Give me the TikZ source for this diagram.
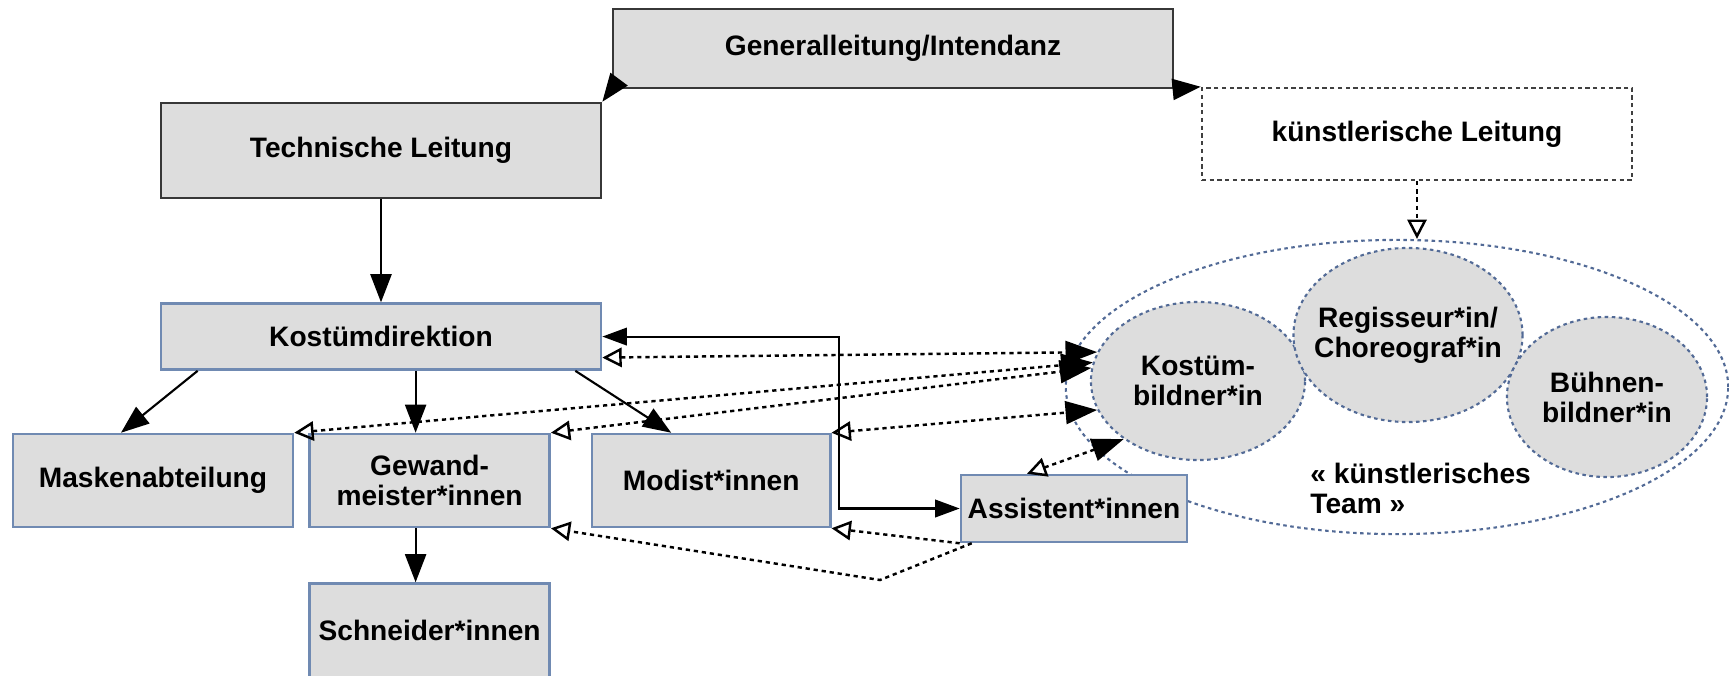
\documentclass[tikz,border=0pt]{standalone}
\usepackage{fontspec}
\setmainfont{Liberation Sans}
\usetikzlibrary{arrows.meta, positioning, shapes.geometric}

\definecolor{kastengrau}{RGB}{221,221,221}
\definecolor{randgrau}{RGB}{55,55,55}
\definecolor{randblau}{RGB}{112,138,178}
\definecolor{punktblau}{RGB}{82,106,150}

\tikzset{
  leitung/.style={draw=randgrau, fill=kastengrau, line width=0.7pt, inner sep=0pt,
                  font=\fontsize{8}{8.5}\selectfont\bfseries, align=center},
  abteilung/.style={leitung, draw=randblau},
  rolle/.style={ellipse, draw=punktblau, fill=kastengrau, dash pattern=on 1pt off 1pt,
                line width=0.6pt, inner sep=0pt},
  rollentext/.style={font=\fontsize{8}{8.5}\selectfont\bfseries, align=center},
  weisung/.style={-{Triangle[length=8pt,width=6pt]}, line width=0.6pt, draw=black},
  absprache/.style={{Triangle[open,length=5.5pt,width=5.5pt]}-{Triangle[length=9pt,width=6.5pt]},
                    dash pattern=on 1.2pt off 1.1pt, line width=0.7pt, draw=black},
  rueckweg/.style={-{Triangle[open,length=5.5pt,width=5.5pt]},
                   dash pattern=on 1.2pt off 1.1pt, line width=0.7pt, draw=black}
}

\begin{document}
\begin{tikzpicture}[x=0.01cm, y=-0.01cm]
    \useasboundingbox (0,0) rectangle (1729,675);

    % kuenstlerisches Team
    \node[ellipse, draw=punktblau, dash pattern=on 1pt off 1pt, line width=0.6pt,
          minimum width=6.62cm, minimum height=2.94cm, inner sep=0pt] (team) at (1397,387) {};
    \node[rolle, minimum width=2.14cm, minimum height=1.58cm,
          label={[rollentext]center:Kostüm-\\bildner*in}] (kb) at (1198,381) {};
    \node[rolle, minimum width=2.29cm, minimum height=1.74cm,
          label={[rollentext]center:Regisseur*in/\\Choreograf*in}] (rg) at (1408,335) {};
    \node[rolle, minimum width=2.0cm, minimum height=1.6cm,
          label={[rollentext]center:Bühnen-\\bildner*in}] (bb) at (1607,397) {};
    \node[rollentext, anchor=west, align=left] (teamtext) at (1298,488) {« künstlerisches\\Team »};

    \node[leitung, minimum width=5.6cm, minimum height=0.79cm] (gl) at (893,48.5) {Generalleitung/Intendanz};
    \node[leitung, minimum width=4.4cm, minimum height=0.95cm] (tl) at (381,150.5) {Technische Leitung};
    \node[leitung, fill=white, draw=black!75, dash pattern=on 1.2pt off 1pt,
          minimum width=4.3cm, minimum height=0.92cm] (kl) at (1417,134) {künstlerische Leitung};

    \node[abteilung, minimum width=4.4cm, minimum height=0.66cm, below=1.03cm of tl] (kd) {Kostümdirektion};
    \node[abteilung, minimum width=2.8cm, minimum height=0.93cm] (ma) at (153,480.5) {Maskenabteilung};
    \node[abteilung, minimum width=2.4cm, minimum height=0.93cm, right=0.14cm of ma] (gm) {Gewand-\\meister*innen};
    \node[abteilung, minimum width=2.38cm, minimum height=0.93cm, right=0.4cm of gm] (mo) {Modist*innen};
    \node[abteilung, minimum width=2.4cm, minimum height=0.94cm, below=0.54cm of gm] (sn) {Schneider*innen};
    \node[abteilung, minimum width=2.26cm, minimum height=0.67cm] (as) at (1074,508.5) {Assistent*innen};

    \coordinate (knick) at (880,580);

    % Linie
    \draw[weisung] (gl.south west) -- (tl.north east);
    \draw[weisung] (gl.south east) -- (kl.north west);
    \draw[weisung] (tl.south) -- (kd.north);
    \draw[weisung] ([xshift=0.38cm]kd.south west) -- ([xshift=-0.32cm]ma.north);
    \draw[weisung] ([xshift=-0.14cm]gm.north |- kd.south) -- ([xshift=-0.14cm]gm.north);
    \draw[weisung] ([xshift=-0.27cm]kd.south east) -- ([xshift=-0.4cm]mo.north);
    \draw[weisung] ([xshift=-0.14cm]gm.south) -- ([xshift=-0.14cm]sn.north);
    \draw[weisung, {Triangle[length=7pt,width=5pt]}-{Triangle[length=7pt,width=5pt]}]
        (kd.east) -| ([xshift=-1.21cm]as.west) -- (as.west);

    % Absprachen
    \draw[rueckweg] (kl.south) -- (kl.south |- team.north);
    \draw[absprache] ([yshift=-0.21cm]kd.east) -- (kb.164);
    \draw[absprache] (ma.north east) -- (kb.170);
    \draw[absprache] (gm.north east) -- (kb.173);
    \draw[absprache] (mo.north east) -- (kb.196);
    \draw[absprache] ([xshift=-0.47cm]as.north) -- (kb.218);
    \draw[rueckweg] (as.south west) -- (mo.south east);
    \draw[rueckweg] ([xshift=0.12cm]as.south west) -- (knick) -- (gm.south east);

\end{tikzpicture}
\end{document}
